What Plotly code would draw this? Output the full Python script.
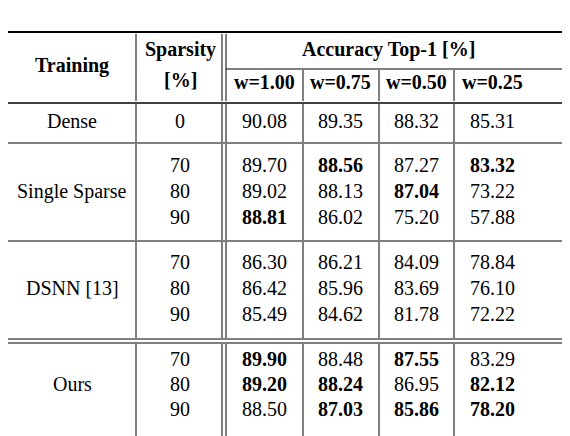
import plotly.graph_objects as go

# ---- data ----
training = ["Dense", "Single Sparse", "DSNN [13]", "Ours"]
sparsity = [["0"], ["70", "80", "90"], ["70", "80", "90"], ["70", "80", "90"]]
widths = ["w=1.00", "w=0.75", "w=0.50", "w=0.25"]
acc = [
    [[90.08, 89.35, 88.32, 85.31]],
    [[89.70, 88.56, 87.27, 83.32], [89.02, 88.13, 87.04, 73.22], [88.81, 86.02, 75.20, 57.88]],
    [[86.30, 86.21, 84.09, 78.84], [86.42, 85.96, 83.69, 76.10], [85.49, 84.62, 81.78, 72.22]],
    [[89.90, 88.48, 87.55, 83.29], [89.20, 88.24, 86.95, 82.12], [88.50, 87.03, 85.86, 78.20]],
]
bold = [
    [[0, 0, 0, 0]],
    [[0, 1, 0, 1], [0, 0, 1, 0], [1, 0, 0, 0]],
    [[0, 0, 0, 0], [0, 0, 0, 0], [0, 0, 0, 0]],
    [[1, 0, 1, 0], [1, 1, 0, 1], [0, 1, 1, 1]],
]

# ---- layout geometry (pixels) ----
FONT = "'Liberation Serif', 'Times New Roman', 'DejaVu Serif', serif"
FS = 20
col_x = [256, 332, 408, 484]
x_train, x_sp = 64, 172
row_y = [[113], [157, 183, 209], [254, 280, 306], [351, 376, 401]]
group_top = [95, 135, 233, 335]
group_bot = [135, 233, 331, 432]

ann = []
def txt(x, y, s, b=False, size=FS):
    ann.append(dict(x=x, y=y, xref="x", yref="y", text=f"<b>{s}</b>" if b else s,
                    showarrow=False, font=dict(family=FONT, size=size, color="black"),
                    xanchor="center", yanchor="middle"))

# header
txt(x_train, 57, "Training", True)
txt(x_sp, 41, "Sparsity", True)
txt(x_sp, 72, "[%]", True)
txt(380, 41, "Accuracy Top-1 [%]", True)
for cx, w in zip(col_x, widths):
    txt(cx, 74, w, True)

for g, name in enumerate(training):
    ys = row_y[g]
    txt(x_train, sum(ys) / len(ys), name)
    for r, y in enumerate(ys):
        txt(x_sp, y, sparsity[g][r])
        for c, cx in enumerate(col_x):
            txt(cx, y, f"{acc[g][r][c]:.2f}", bool(bold[g][r][c]))

shapes = []
def hl(y, x0=0, x1=566, w=1.2):
    shapes.append(dict(type="line", x0=x0, x1=x1, y0=y, y1=y, line=dict(color="black", width=w)))
def vl(x, y0, y1, w=1):
    shapes.append(dict(type="line", x0=x, x1=x, y0=y0, y1=y1, line=dict(color="black", width=w)))

hl(24, w=2.2); hl(95, w=1.5); hl(135); hl(233); hl(331); hl(335); hl(432, w=2.2)
hl(61, 218, 566)
vl(128, 26, 93); vl(214, 26, 93); vl(218, 26, 93)
for x in [295, 371, 446]:
    vl(x, 62, 93)
for t, b in zip(group_top, group_bot):
    for x in [128, 214, 218, 295, 371, 446]:
        vl(x, t + 1, b - 1)

fig = go.Figure()
fig.update_layout(width=570, height=436, margin=dict(l=0, r=0, t=0, b=0),
                  paper_bgcolor="white", plot_bgcolor="white",
                  xaxis=dict(range=[0, 570], visible=False, fixedrange=True),
                  yaxis=dict(range=[436, 0], visible=False, fixedrange=True),
                  annotations=ann, shapes=shapes, showlegend=False)
fig.write_html("out.html")
